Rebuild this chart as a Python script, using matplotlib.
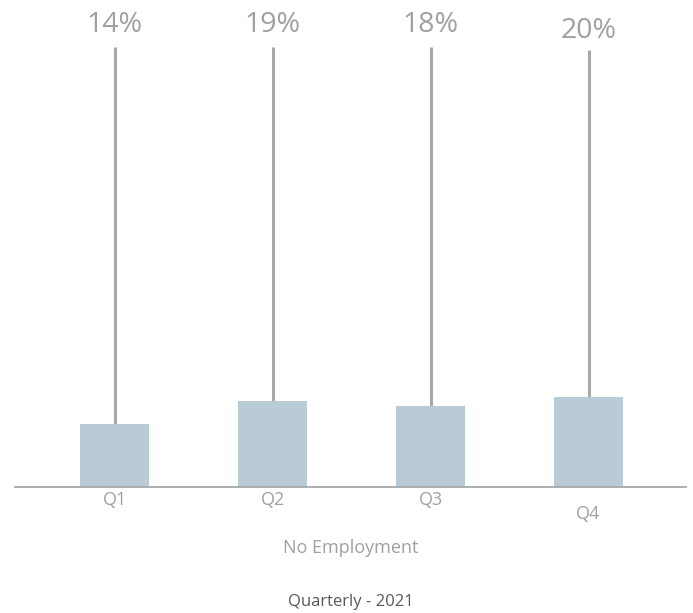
import matplotlib.pyplot as plt
from matplotlib import transforms

plt.rcParams['font.family'] = ['Open Sans', 'DejaVu Sans']

quarters = ["Q1", "Q2", "Q3", "Q4"]
values = [14, 19, 18, 20]
labels = ["14%", "19%", "18%", "20%"]

bar_color = "#b9cbd6"
line_color = "#a8a8a8"
text_color = "#a0a0a0"

fig = plt.figure(figsize=(6.93, 6.13), dpi=100)
ax = fig.add_axes([15 / 693, 1 - 487 / 613, 671 / 693, 487 / 613])

x = list(range(len(quarters)))
ax.bar(x, values, width=0.437, color=bar_color, zorder=2)

# leader lines from each bar up to its label
line_top = [97.8, 97.8, 97.8, 97.0]
label_y = [102.6, 102.6, 102.6, 101.4]
for xi, v, top, ly, lab in zip(x, values, line_top, label_y, labels):
    ax.plot([xi, xi], [v, top], color=line_color, lw=2.2, solid_capstyle="butt", zorder=1)
    ax.text(xi, ly, lab, ha="center", va="center", fontsize=20.5, color=text_color)

ax.set_xlim(-0.63, 3.617)
ax.set_ylim(0, 108.2)

for s in ["top", "left", "right"]:
    ax.spines[s].set_visible(False)
ax.spines["bottom"].set_color(line_color)
ax.spines["bottom"].set_linewidth(1.3)
ax.set_xticks([])
ax.set_yticks([])

# category labels below the axis (Q4 sits a little lower)
trans = transforms.blended_transform_factory(ax.transData, fig.transFigure)
tick_y = [1 - 500 / 613, 1 - 500 / 613, 1 - 500 / 613, 1 - 514 / 613]
for xi, q, ty in zip(x, quarters, tick_y):
    ax.text(xi, ty, q, transform=trans, ha="center", va="center", fontsize=13, color=text_color)

fig.text(351 / 693, 1 - 548 / 613, "No Employment", ha="center", va="center",
         fontsize=13, color=text_color)
fig.text(351 / 693, 1 - 602 / 613, "Quarterly - 2021", ha="center", va="center",
         fontsize=12, color="#595959")

fig.savefig("out.png", dpi=100)
